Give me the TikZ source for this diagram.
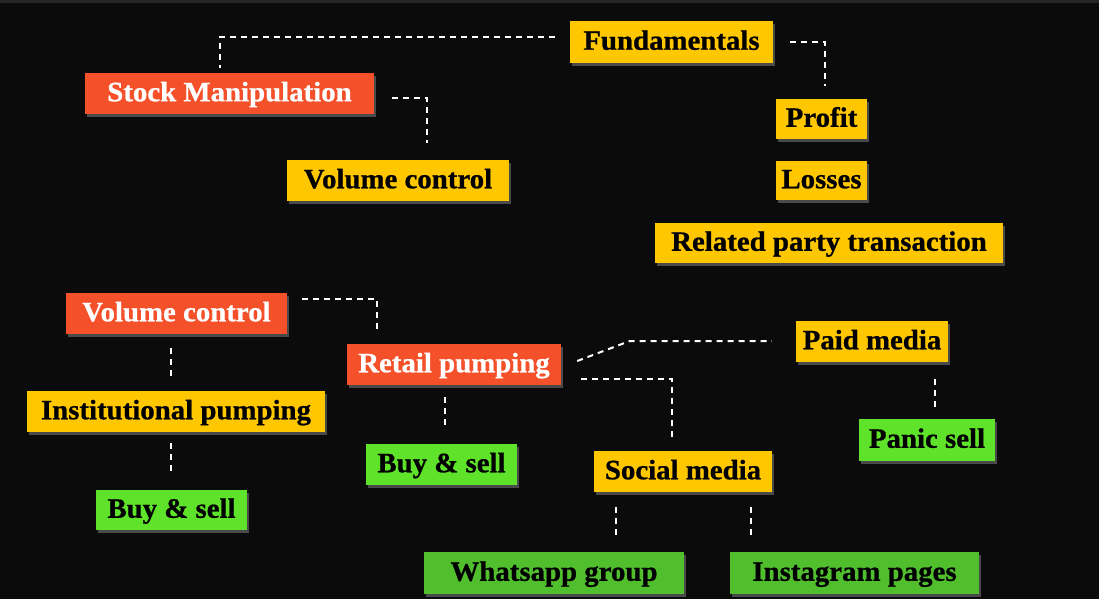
\documentclass[tikz,border=0pt]{standalone}
\usepackage{fontspec}
\setmainfont{Liberation Serif}[BoldFeatures={FakeStretch=1.03,FakeBold=0.8}]
\usetikzlibrary{calc,shadows}
\definecolor{bgc}{HTML}{0B0B0B}
\definecolor{topc}{HTML}{262626}
\definecolor{ylw}{HTML}{FFC700}
\definecolor{rdo}{HTML}{F4502A}
\definecolor{grn}{HTML}{5EE22A}
\definecolor{grd}{HTML}{50BE2D}
\definecolor{shd}{HTML}{8A8A8A}
\tikzset{
  box/.style={rectangle, inner sep=0pt, text height=21.5pt, text depth=6pt,
    font=\fontsize{28}{30}\selectfont\bfseries,
    drop shadow={shadow xshift=2pt, shadow yshift=-3pt, fill=shd, opacity=0.5}},
  ybox/.style={box, fill=ylw, text=black},
  rbox/.style={box, fill=rdo, text=white},
  gbox/.style={box, fill=grn, text=black},
  dbox/.style={box, fill=grd, text=black},
  conn/.style={draw=white, line width=2pt, dash pattern=on 6pt off 5pt}
}
\begin{document}
\begin{tikzpicture}[x=1pt,y=-1pt]
\fill[bgc] (0,0) rectangle (1099,599);
\fill[topc] (0,0) rectangle (1099,3);
\useasboundingbox (0,0) rectangle (1099,599);

\node[ybox, minimum width=203pt, minimum height=42pt] (fund) at (671.5,42) {Fundamentals};
\node[rbox, minimum width=289pt, minimum height=41pt] (sm) at (229.5,93.5) {Stock Manipulation};
\node[ybox, minimum width=222pt, minimum height=41pt] (vc1) at (398,180.5) {Volume control};
\node[ybox, minimum width=91pt, minimum height=40pt] (profit) at (821.5,119) {Profit};
\node[ybox, minimum width=91pt, minimum height=39pt] (losses) at (821.5,180.5) {Losses};
\node[ybox, minimum width=348pt, minimum height=40pt] (related) at (829,243) {Related party transaction};
\node[rbox, minimum width=221pt, minimum height=41pt] (vc2) at (176.5,313.5) {Volume control};
\node[rbox, minimum width=214pt, minimum height=41pt] (retail) at (454,364.5) {Retail pumping};
\node[ybox, minimum width=298pt, minimum height=41pt] (inst) at (176,411.5) {Institutional pumping};
\node[gbox, minimum width=151pt, minimum height=40pt] (bs1) at (171.5,510) {Buy \& sell};
\node[gbox, minimum width=151pt, minimum height=41pt] (bs2) at (441.5,464.5) {Buy \& sell};
\node[ybox, minimum width=152pt, minimum height=41pt] (paid) at (872,341.5) {Paid media};
\node[gbox, minimum width=136pt, minimum height=42pt] (panic) at (927,440) {Panic sell};
\node[ybox, minimum width=178pt, minimum height=41pt] (social) at (683,471.5) {Social media};
\node[dbox, minimum width=260pt, minimum height=42pt] (whats) at (554,573) {Whatsapp group};
\node[dbox, minimum width=249pt, minimum height=42pt] (insta) at (854.5,573) {Instagram pages};

\draw[conn] ($(fund.west)+(-15,-5)$) -| ($(sm.north)+(-10,-5)$);
\draw[conn] ($(sm.east)+(18,4.5)$) -| ($(vc1.north)+(29,-17)$);
\draw[conn] ($(fund.east)+(17,0)$) -| ($(profit.north)+(3.5,-13)$);
\draw[conn] ($(vc2.east)+(15,-14.5)$) -| ($(retail.north)+(-77,-15)$);
\draw[conn] ($(vc2.south)+(-5.5,14)$) -- ($(inst.north)+(-5,-12)$);
\draw[conn] ($(inst.south)+(-5,11)$) -- ($(bs1.north)+(-0.5,-17)$);
\draw[conn] ($(retail.south)+(-9,12)$) -- ($(bs2.north)+(3.5,-15)$);
\coordinate (bend) at ($(paid.west)+(-166,-0.5)$);
\draw[conn] ($(retail.east)+(16,-3.5)$) -- (bend) -- ($(paid.west)+(-24,-0.5)$);
\draw[conn] ($(retail.east)+(20,14.5)$) -| ($(social.north)+(-11,-12)$);
\draw[conn] ($(paid.south)+(63,17)$) -- ($(panic.north)+(8,-11)$);
\draw[conn] ($(social.south)+(-67,15)$) -- ($(whats.north)+(62,-12)$);
\draw[conn] ($(social.south)+(68,15)$) -- ($(insta.north)+(-103.5,-12)$);
\end{tikzpicture}
\end{document}
